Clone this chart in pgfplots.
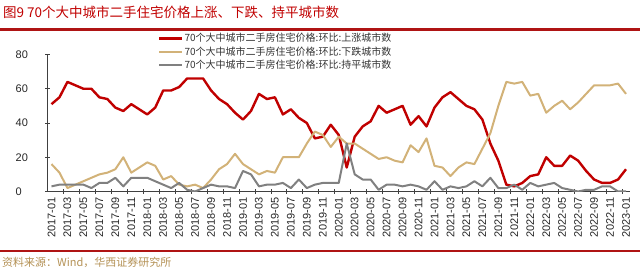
\documentclass[border=0pt]{standalone}
\usepackage{pgfplots}
\usepackage{pgfplotstable}
\pgfplotsset{compat=1.18}
\usepackage{fontspec}
\setmainfont{Liberation Sans}
\newfontfamily\cjk{Noto Sans CJK SC}

\definecolor{upred}{RGB}{192,0,0}
\definecolor{downtan}{RGB}{210,178,120}
\definecolor{flatgray}{RGB}{128,128,128}
\definecolor{rulered}{RGB}{175,20,20}
\definecolor{srcbrown}{RGB}{180,145,85}

% month index (2017-01 = 0), rising / falling / flat city counts
\pgfplotstableread{
i red gold gray
0 51 16 3
1 55 11 4
2 64 2 4
3 62 4 4
4 60 6 4
5 60 8 2
6 55 10 5
7 54 11 5
8 49 13 8
9 47 20 3
10 51 11 8
11 48 14 8
12 45 17 8
13 49 15 6
14 59 7 4
15 59 9 2
16 61 4 5
17 66 3 1
18 66 4 0
19 66 2 2
20 59 7 4
21 54 13 3
22 51 16 3
23 46 22 2
24 42 16 12
25 47 13 10
26 57 10 3
27 54 12 4
28 55 11 4
29 45 20 5
30 48 20 2
31 43 20 7
32 40 28 2
33 31 35 4
34 32 33 5
35 39 26 5
36 33 32 5
37 14 28 28
38 32 28 10
39 38 25 7
40 41 22 7
41 50 19 1
42 46 20 4
43 48 18 4
44 50 17 3
45 39 27 4
46 44 23 3
47 38 31 1
48 49 15 6
49 55 14 1
50 58 9 3
51 54 14 2
52 50 17 3
53 48 16 6
54 42 25 3
55 28 34 8
56 18 50 2
57 4 64 2
58 3 63 4
59 5 64 1
60 9 56 5
61 10 57 3
62 20 46 4
63 15 50 5
64 15 53 2
65 21 48 1
66 18 52 0
67 12 57 1
68 7 62 1
69 5 62 3
70 5 62 3
71 7 63 0
72 13 57 0
}\citydata

\begin{document}
\begin{tikzpicture}[x=1pt,y=1pt]
\useasboundingbox (0,0) rectangle (640,270);

\node[anchor=west, inner sep=0pt, text=upred, font=\cjk\fontsize{13.5}{15}\selectfont]
  at (3,258) {图9 70个大中城市二手住宅价格上涨、下跌、持平城市数};
\draw[rulered, line width=2.2pt] (0,240.5) -- (640,240.5);
\draw[rulered, line width=1.8pt] (0,19.3) -- (640,19.3);
\node[anchor=west, inner sep=0pt, text=srcbrown, font=\cjk\fontsize{11}{13}\selectfont]
  at (2,8) {资料来源：Wind，华西证券研究所};

\begin{axis}[
    at={(47.5pt,78.5pt)}, anchor=south west,
    scale only axis, width=582.5pt, height=137pt,
    xmin=-0.5, xmax=72.5,
    ymin=0, ymax=80,
    axis x line=bottom, axis y line=left,
    axis line style={black!75, line width=1pt, -},
    xtick={0,2,...,72},
    xticklabels={2017-01,2017-03,2017-05,2017-07,2017-09,2017-11,
      2018-01,2018-03,2018-05,2018-07,2018-09,2018-11,
      2019-01,2019-03,2019-05,2019-07,2019-09,2019-11,
      2020-01,2020-03,2020-05,2020-07,2020-09,2020-11,
      2021-01,2021-03,2021-05,2021-07,2021-09,2021-11,
      2022-01,2022-03,2022-05,2022-07,2022-09,2022-11,2023-01},
    major x tick style={draw=none},
    minor xtick={1.5,3.5,...,71.5},
    minor x tick style={black!75, line width=0.8pt},
    minor tick length=5pt,
    ytick={0,20,...,80},
    major y tick style={black!75, line width=0.8pt},
    major tick length=5pt,
    tick align=center,
    /pgf/number format/assume math mode=true,
    tick label style={font=\fontsize{11}{13}\selectfont, text=black!85},
    xticklabel style={rotate=90, anchor=east},
    yticklabel style={anchor=west, inner sep=0pt, xshift=-29.5pt},
    legend style={draw=none, fill=none,
      at={(axis description cs:0.1846,1.179)}, anchor=north west,
      font=\cjk\fontsize{10}{12}\selectfont, text=black!80,
      row sep=0.9pt,
      nodes={inner sep=1pt, text height=8.5pt, text depth=2pt}},
    legend cell align=left,
    legend image code/.code={\draw[#1] (0pt,0pt) -- (23pt,0pt);},
    line join=round,
]
\addplot[upred, line width=2.4pt] table[x=i, y=red] {\citydata};
\addlegendentry{70个大中城市二手房住宅价格:环比:上涨城市数}
\addplot[downtan, line width=2pt] table[x=i, y=gold] {\citydata};
\addlegendentry{70个大中城市二手房住宅价格:环比:下跌城市数}
\addplot[flatgray, line width=2pt] table[x=i, y=gray] {\citydata};
\addlegendentry{70个大中城市二手房住宅价格:环比:持平城市数}
\end{axis}
\end{tikzpicture}
\end{document}
